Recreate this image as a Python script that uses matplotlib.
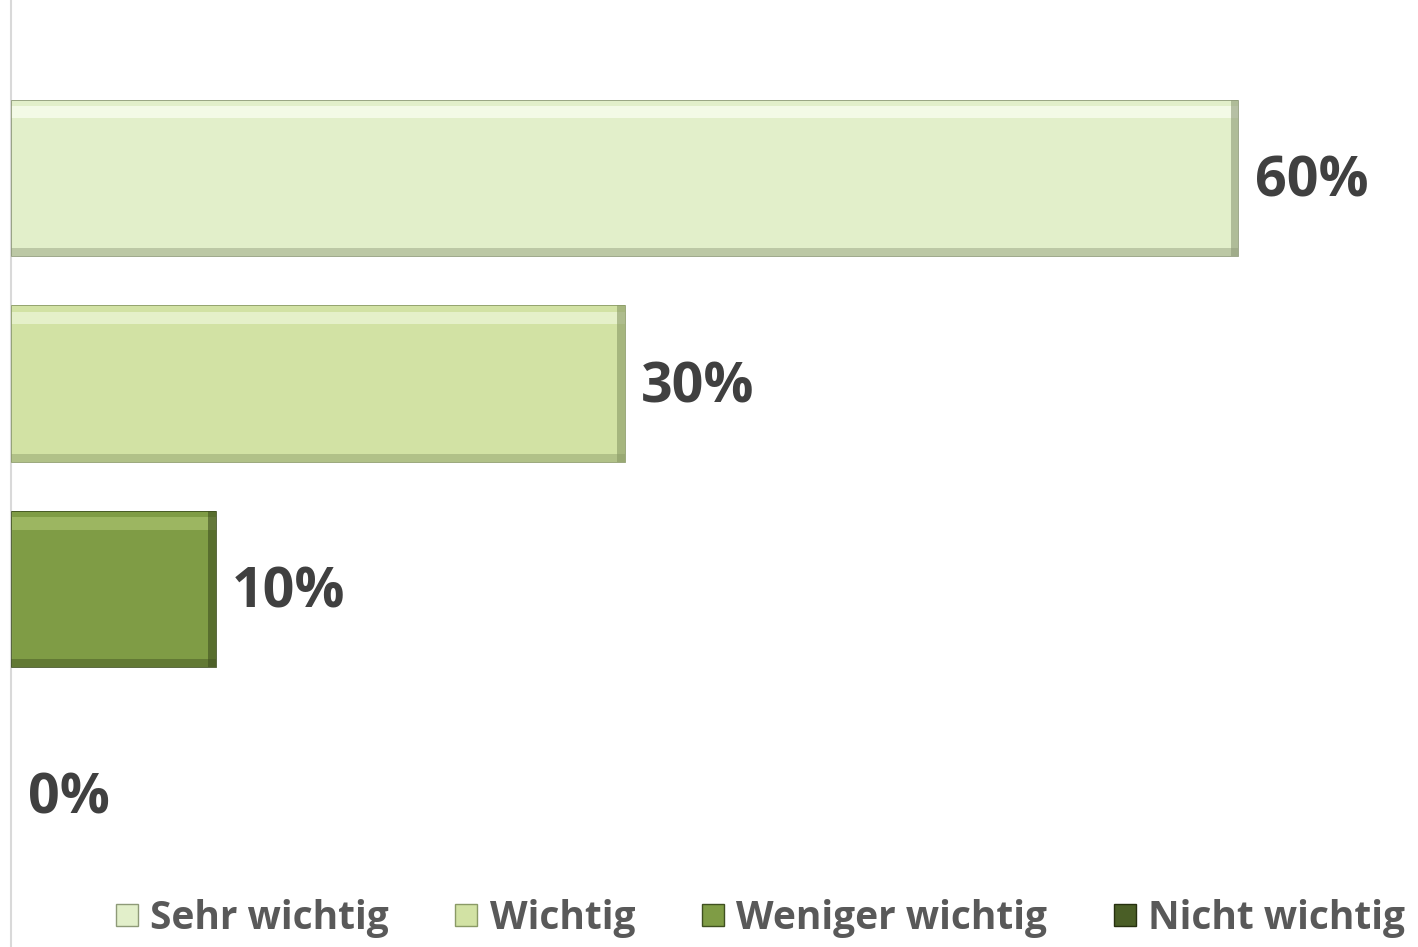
"""
Horizontal bar chart: Wichtigkeit (Sehr wichtig .. Nicht wichtig).
"""
import matplotlib.pyplot as plt
from matplotlib.lines import Line2D

categories = ['Sehr wichtig', 'Wichtig', 'Weniger wichtig', 'Nicht wichtig']
values = [60, 30, 10, 0]
labels = ['60%', '30%', '10%', '0%']

fill_colors = ['#E2EFCA', '#D2E2A4', '#7F9C45', '#4A5E26']
shade_colors = ['#8E9A78', '#8A9A66', '#3F5020', '#26300F']
light_colors = ['#FBFFF2', '#EEF6DA', '#A9C26E', '#6E8540']

plt.rcParams['font.family'] = ['Open Sans', 'DejaVu Sans']

fig = plt.figure(figsize=(14.18, 9.47), dpi=100)
ax = fig.add_axes([11 / 1418, 0, 1407 / 1418, 1])

n = len(categories)
ypos = [n - 1 - i for i in range(n)]
bar_h = 0.76

ax.barh(ypos, values, height=bar_h, color=fill_colors, linewidth=0, zorder=2)
# simple bevel: light top strip, dark bottom and right strips
for y, v, lc, sc in zip(ypos, values, light_colors, shade_colors):
    if v <= 0:
        continue
    ax.barh(y + bar_h / 2 - 0.06, v, height=0.06, color=lc, alpha=0.7,
            linewidth=0, zorder=3)
    ax.barh(y - bar_h / 2 + 0.02, v, height=0.04, color=sc, alpha=0.45,
            linewidth=0, zorder=3)
    ax.barh(y, 0.35, left=v - 0.35, height=bar_h, color=sc, alpha=0.6,
            linewidth=0, zorder=4)
    ax.barh(y, v, height=bar_h, fill=False, edgecolor=sc, linewidth=0.6,
            zorder=5)

for y, v, lab in zip(ypos, values, labels):
    ax.annotate(lab, (v, y), xytext=(12, -3), textcoords='offset points',
                ha='left', va='center', fontsize=40, fontweight='bold',
                color='#404040')

ax.set_xlim(0, 1407 / 20.45)
ax.set_ylim(-0.739, 3.865)
for side in ['top', 'right', 'bottom']:
    ax.spines[side].set_visible(False)
ax.spines['left'].set_color('#D9D9D9')
ax.spines['left'].set_linewidth(1.5)
ax.set_xticks([])
ax.set_yticks([])

handles = [Line2D([], [], marker='s', linestyle='none', markersize=16,
                  markerfacecolor=fc, markeredgecolor=sc, markeredgewidth=1)
           for fc, sc in zip(fill_colors, shade_colors)]
leg = fig.legend(handles, categories, loc='lower left', ncol=4,
                 bbox_to_anchor=(74 / 1418, -0.027), frameon=False,
                 prop={'size': 28, 'weight': 'bold'},
                 handletextpad=0.15, columnspacing=1.55, handlelength=0.9)
for t in leg.get_texts():
    t.set_color('#595959')

fig.savefig('out.png', dpi=100)
